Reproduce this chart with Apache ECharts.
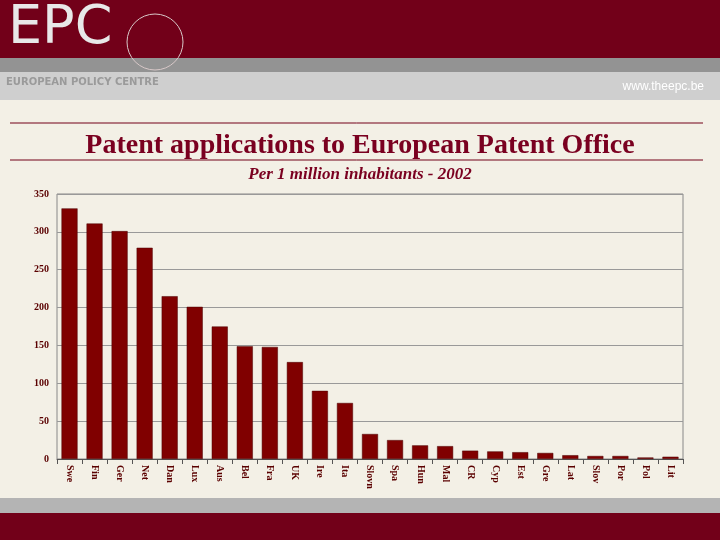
<!DOCTYPE html>
<html>
<head>
<meta charset="utf-8">
<script src="https://cdn.jsdelivr.net/npm/echarts@6/dist/echarts.min.js"></script>
<style>
html, body { margin: 0; padding: 0; background: #f3f0e6; }
#main { width: 720px; height: 540px; }
</style>
</head>
<body>
<div id="main"></div>
<script>
var countries = ['Swe','Fin','Ger','Net','Dan','Lux','Aus','Bel','Fra','UK','Ire','Ita','Slovn','Spa','Hun','Mal','CR','Cyp','Est','Gre','Lat','Slov','Por','Pol','Lit'];
var patents = [331, 311, 301, 279, 215, 201, 175, 149, 148, 128, 90, 74, 33, 25, 18, 17, 11, 10, 9, 8, 5, 4, 4, 2, 3];

var myChart = echarts.init(document.getElementById('main'));

var option = {
    backgroundColor: '#f3f0e6',
    animation: false,
    graphic: [
        // header bands
        { type: 'rect', shape: { x: 0, y: 0, width: 720, height: 58 }, style: { fill: '#720019' } },
        { type: 'rect', shape: { x: 0, y: 58, width: 720, height: 14 }, style: { fill: '#939393' } },
        { type: 'rect', shape: { x: 0, y: 72, width: 720, height: 28 }, style: { fill: '#cfcfcf' } },
        { type: 'text', left: 8, top: 2, style: { text: 'EPC', font: '54px "DejaVu Sans"', fill: '#e8e8e8' } },
        { type: 'circle', shape: { cx: 155, cy: 42, r: 28 }, style: { fill: 'none', stroke: '#d8c8c8', lineWidth: 1 } },
        { type: 'text', left: 6, top: 77, style: { text: 'EUROPEAN POLICY CENTRE', font: 'bold 10px "DejaVu Sans"', fill: '#9a9a9a' } },
        { type: 'text', right: 16, top: 81, style: { text: 'www.theepc.be', font: '12px "Liberation Sans"', fill: '#ffffff' } },
        // title rules
        { type: 'line', shape: { x1: 10, y1: 123, x2: 703, y2: 123 }, style: { stroke: '#720019', lineWidth: 1 } },
        { type: 'line', shape: { x1: 10, y1: 160, x2: 703, y2: 160 }, style: { stroke: '#720019', lineWidth: 1 } },
        // footer bands
        { type: 'rect', shape: { x: 0, y: 498, width: 720, height: 15 }, style: { fill: '#b4b4b4' } },
        { type: 'rect', shape: { x: 0, y: 513, width: 720, height: 27 }, style: { fill: '#720019' } }
    ],
    title: {
        text: 'Patent applications to European Patent Office',
        subtext: 'Per 1 million inhabitants - 2002',
        left: 355,
        textAlign: 'center',
        top: 127,
        itemGap: 6,
        textStyle: { fontFamily: 'Liberation Serif', fontWeight: 'bold', fontSize: 28, color: '#7a0020' },
        subtextStyle: { fontFamily: 'Liberation Serif', fontStyle: 'italic', fontWeight: 'bold', fontSize: 17, color: '#7a0020' }
    },
    grid: { left: 57, right: 37, top: 194, bottom: 81, show: true, borderColor: '#888', borderWidth: 1 },
    xAxis: {
        type: 'category',
        data: countries,
        axisLine: { lineStyle: { color: '#555' } },
        axisTick: { show: true, alignWithLabel: false, lineStyle: { color: '#555' } },
        axisLabel: { rotate: -90, interval: 0, fontFamily: 'Liberation Serif', fontWeight: 'bold', fontSize: 10, color: '#5a0000', margin: 6 }
    },
    yAxis: {
        type: 'value',
        min: 0,
        max: 350,
        interval: 50,
        axisLine: { show: false },
        axisTick: { show: false },
        splitLine: { lineStyle: { color: '#999' } },
        axisLabel: { fontFamily: 'Liberation Serif', fontWeight: 'bold', fontSize: 10, color: '#5a0000' }
    },
    series: [{
        type: 'bar',
        data: patents,
        barWidth: '64%',
        itemStyle: { color: '#800000', borderColor: '#4a0000', borderWidth: 0.5 }
    }]
};
myChart.setOption(option);
</script>
</body>
</html>
